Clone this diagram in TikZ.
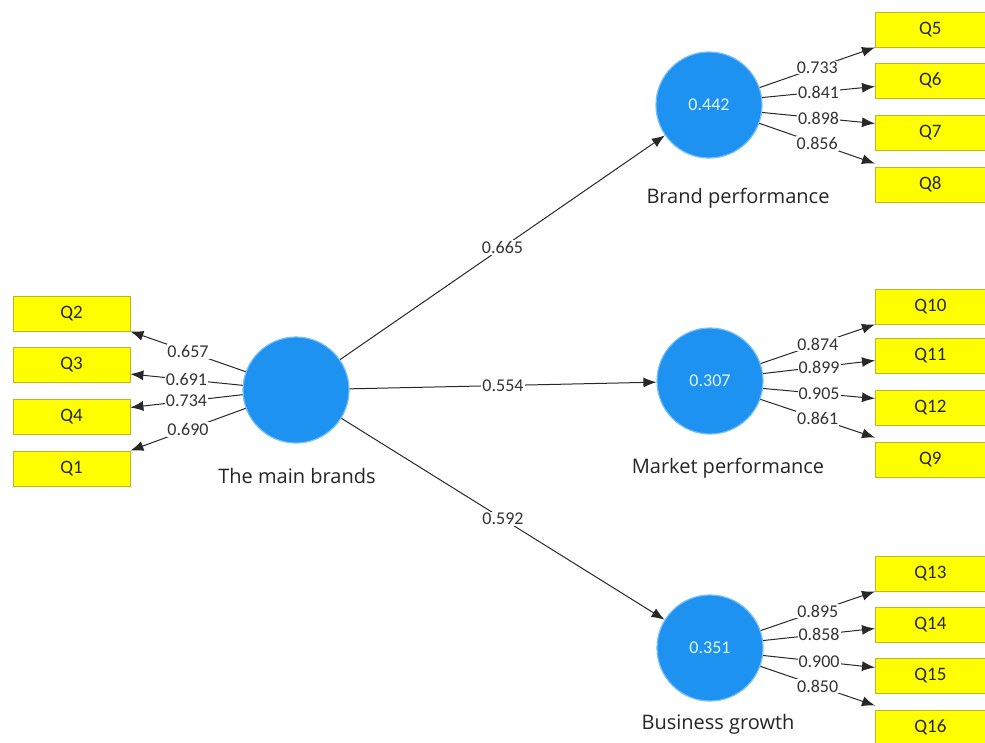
\documentclass[tikz,border=0pt]{standalone}
\usepackage{fontspec}
\setmainfont{Carlito}
\newfontfamily\namefont{Open Sans}
\usetikzlibrary{arrows.meta}
\definecolor{lvblue}{RGB}{30,146,240}
\definecolor{lvtext}{RGB}{225,244,255}
\definecolor{ind}{RGB}{255,255,0}
\definecolor{indedge}{RGB}{190,180,40}
\definecolor{lineg}{RGB}{40,40,40}
\tikzset{
  lv/.style={circle,fill=lvblue,draw=lvblue!60!white,line width=1.2pt,minimum size=106pt,inner sep=0pt,text=lvtext,font=\fontsize{18}{20}\selectfont},
  mv/.style={rectangle,fill=ind,draw=indedge,line width=0.8pt,minimum height=35pt,inner sep=0pt,text=black!85,font=\fontsize{19}{21}\selectfont},
  mvr/.style={mv,minimum width=115pt,anchor=west},
  mvl/.style={mv,minimum width=117pt},
  lvname/.style={font=\namefont\fontsize{20}{22}\selectfont,text=black!85},
  arr/.style={draw=lineg,line width=1pt,-{Latex[length=13pt,width=10pt]}},
  lbl/.style={fill=white,inner sep=1pt,font=\fontsize{18}{20}\selectfont,text=black!80,pos=0.5}
}
\begin{document}
\begin{tikzpicture}[x=1pt,y=-1pt]
\useasboundingbox[fill=white] (0,0) rectangle (985,742);
% latent variables
\node[lv] (tm) at (296,390) {};
\node[lv] (bp) at (709,105) {0.442};
\node[lv] (mp) at (710,381) {0.307};
\node[lv] (bg) at (710,648) {0.351};
\node[lvname] (tmn) at (297,476) {The main brands};
\node[lvname] (bpn) at (738,198) {Brand performance};
\node[lvname] (mpn) at (728,468) {Market performance};
\node[lvname] (bgn) at (718,724) {Business growth};
% indicators left
\node[mvl] (q2) at (71.5,313.5) {Q2};
\node[mvl] (q3) at (71.5,365) {Q3};
\node[mvl] (q4) at (71.5,416.5) {Q4};
\node[mvl] (q1) at (71.5,468.5) {Q1};
% indicators right
\node[mvr] (q5) at (875,29.5) {\hspace*{-5pt}Q5};
\node[mvr] (q6) at (875,80.5) {\hspace*{-5pt}Q6};
\node[mvr] (q7) at (875,132.5) {\hspace*{-5pt}Q7};
\node[mvr] (q8) at (875,184.5) {\hspace*{-5pt}Q8};
\node[mvr] (q10) at (875,306.5) {\hspace*{-5pt}Q10};
\node[mvr] (q11) at (875,355.5) {\hspace*{-5pt}Q11};
\node[mvr] (q12) at (875,407.5) {\hspace*{-5pt}Q12};
\node[mvr] (q9) at (875,459.5) {\hspace*{-5pt}Q9};
\node[mvr] (q13) at (875,573.5) {\hspace*{-5pt}Q13};
\node[mvr] (q14) at (875,624.5) {\hspace*{-5pt}Q14};
\node[mvr] (q15) at (875,675.5) {\hspace*{-5pt}Q15};
\node[mvr] (q16) at (875,727.5) {\hspace*{-5pt}Q16};
% structural paths
\draw[arr] (tm) -- node[lbl]{0.665} (bp);
\draw[arr] (tm) -- node[lbl]{0.554} (mp);
\draw[arr] (tm) -- node[lbl]{0.592} (bg);
% outer loadings left
\draw[arr] (tm.160) -- node[lbl]{0.657} (q2.south east);
\draw[arr] (tm.175) -- node[lbl]{0.691} ([yshift=-9pt]q3.east);
\draw[arr] (tm.185) -- node[lbl]{0.734} ([yshift=9pt]q4.east);
\draw[arr] (tm.200) -- node[lbl]{0.690} (q1.north east);
% outer loadings brand performance
\draw[arr] (bp.19) -- node[lbl]{0.733} (q5.south west);
\draw[arr] (bp.8) -- node[lbl]{0.841} ([yshift=-6pt]q6.west);
\draw[arr] (bp.-8) -- node[lbl]{0.898} ([yshift=9pt]q7.west);
\draw[arr] (bp.-20) -- node[lbl]{0.856} ([yshift=3pt]q8.north west);
% outer loadings market performance
\draw[arr] (mp.19) -- node[lbl]{0.874} (q10.south west);
\draw[arr] (mp.8) -- node[lbl]{0.899} ([yshift=-5pt]q11.west);
\draw[arr] (mp.-8) -- node[lbl]{0.905} ([yshift=9pt]q12.west);
\draw[arr] (mp.-20) -- node[lbl]{0.861} ([yshift=4pt]q9.north west);
% outer loadings business growth
\draw[arr] (bg.19) -- node[lbl]{0.895} (q13.south west);
\draw[arr] (bg.8) -- node[lbl]{0.858} ([yshift=-4pt]q14.west);
\draw[arr] (bg.-8) -- node[lbl]{0.900} ([yshift=8pt]q15.west);
\draw[arr] (bg.-20) -- node[lbl]{0.850} ([yshift=4pt]q16.north west);
\end{tikzpicture}
\end{document}
